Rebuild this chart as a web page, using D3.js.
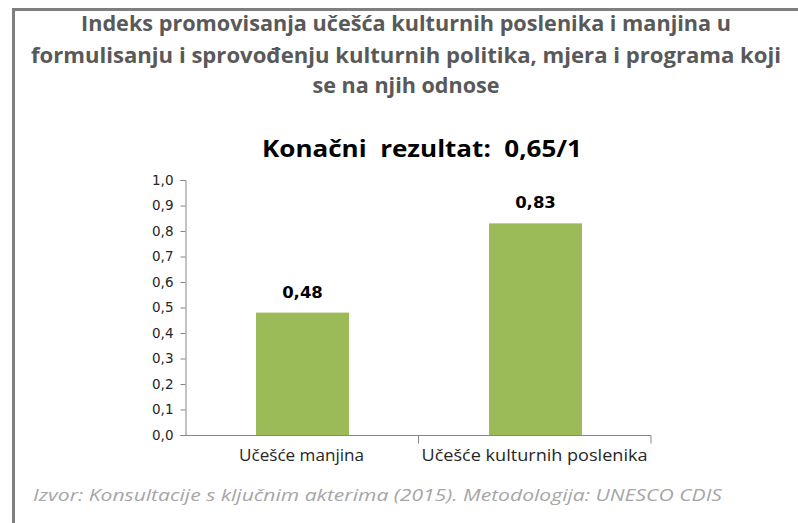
<!DOCTYPE html>
<html>
<head>
<meta charset="utf-8">
<script src="https://cdn.jsdelivr.net/npm/d3@7"></script>
<style>
  html, body { margin: 0; padding: 0; background: #fff; }
  svg { display: block; }
</style>
</head>
<body>
<div id="vis"></div>
<script>
// chart data
var categories = ["Učešće manjina", "Učešće kulturnih poslenika"];
var values = [0.48, 0.83];
var valueLabels = ["0,48", "0,83"];
var yTicks = [0, 0.1, 0.2, 0.3, 0.4, 0.5, 0.6, 0.7, 0.8, 0.9, 1.0];
var titleLines = [
  "Indeks promovisanja učešća kulturnih poslenika i manjina u",
  "formulisanju i sprovođenju kulturnih politika, mjera i programa koji",
  "se na njih odnose"
];
var subtitle = "Konačni  rezultat:  0,65/1";
var source = "Izvor: Konsultacije s ključnim akterima (2015). Metodologija: UNESCO CDIS";

var W = 798, H = 523;
var svg = d3.select("#vis").append("svg")
  .attr("width", W)
  .attr("height", H);

// frame (right and bottom edges run off the picture)
svg.append("path")
  .attr("d", "M13.5," + H + " V9.5 H" + W)
  .attr("fill", "none")
  .attr("stroke", "#7f7f7f")
  .attr("stroke-width", 3);

var cx = 406;
// title, widths fitted to the reference
var titleWidths = [650, 750, 187];
var titleY = [31, 63, 93];
titleLines.forEach(function(t, i) {
  svg.append("text")
    .attr("x", cx)
    .attr("y", titleY[i])
    .attr("text-anchor", "middle")
    .attr("font-family", "'Open Sans', sans-serif")
    .attr("font-weight", "bold")
    .attr("font-size", 21)
    .attr("fill", "#595959")
    .attr("textLength", titleWidths[i])
    .attr("lengthAdjust", "spacingAndGlyphs")
    .text(t);
});

svg.append("text")
  .attr("x", 422)
  .attr("y", 157)
  .attr("text-anchor", "middle")
  .attr("font-family", "'Open Sans', sans-serif")
  .attr("font-weight", "bold")
  .attr("font-size", 23.5)
  .attr("fill", "#000")
  .attr("textLength", 320)
  .attr("lengthAdjust", "spacingAndGlyphs")
  .style("white-space", "pre")
  .text(subtitle);

// scales
var x = d3.scaleBand().domain(categories).range([185, 651]).paddingInner(0).paddingOuter(0);
var y = d3.scaleLinear().domain([0, 1]).range([435, 180]);
var barW = 93;

var fmt = function(d) { return d3.format(".1f")(d).replace(".", ","); };

// y axis
var yAxis = svg.append("g")
  .attr("transform", "translate(185.5,0)")
  .call(d3.axisLeft(y).tickValues(yTicks).tickFormat(fmt).tickSize(5).tickPadding(7));
yAxis.select(".domain").attr("stroke", "#868686").attr("d", "M-5,435.5H0.5V180.5H-5");
yAxis.selectAll(".tick line").attr("stroke", "#868686");
yAxis.selectAll(".tick text")
  .attr("font-family", "'DejaVu Sans', Verdana, sans-serif")
  .attr("font-size", 13.5)
  .attr("fill", "#262626");

// x axis
var xAxis = svg.append("g")
  .attr("transform", "translate(0,435.5)")
  .call(d3.axisBottom(x).tickSize(0).tickPadding(14));
xAxis.select(".domain").attr("stroke", "#868686").attr("d", "M185,0H651V8");
xAxis.selectAll(".tick text")
  .attr("font-family", "'Open Sans', sans-serif")
  .attr("font-size", 16)
  .attr("fill", "#262626")
  .attr("textLength", function(d, i) { return [125, 226][i]; })
  .attr("lengthAdjust", "spacingAndGlyphs");
// category separators
xAxis.selectAll(".sep")
  .data(categories.slice(1))
  .enter().append("line")
  .attr("class", "sep")
  .attr("x1", function(d) { return Math.round(x(d)) + 0.5; })
  .attr("x2", function(d) { return Math.round(x(d)) + 0.5; })
  .attr("y1", 0).attr("y2", 8)
  .attr("stroke", "#868686");

// bars
svg.selectAll(".bar")
  .data(values)
  .enter().append("rect")
  .attr("class", "bar")
  .attr("x", function(d, i) { return x(categories[i]) + x.bandwidth() / 2 - barW / 2 + 1; })
  .attr("y", function(d) { return y(d); })
  .attr("width", barW)
  .attr("height", function(d) { return y(0) - y(d); })
  .attr("fill", "#9bbb59");

// value labels
svg.selectAll(".val")
  .data(values)
  .enter().append("text")
  .attr("class", "val")
  .attr("x", function(d, i) { return x(categories[i]) + x.bandwidth() / 2 + 1; })
  .attr("y", function(d) { return y(d) - 15; })
  .attr("text-anchor", "middle")
  .attr("font-family", "'DejaVu Sans', Verdana, sans-serif")
  .attr("font-weight", "bold")
  .attr("font-size", 16.5)
  .attr("fill", "#000")
  .text(function(d, i) { return valueLabels[i]; });

// source note
svg.append("text")
  .attr("x", 33)
  .attr("y", 501)
  .attr("font-family", "'Open Sans', sans-serif")
  .attr("font-style", "italic")
  .attr("font-size", 16)
  .attr("fill", "#a6a6a6")
  .attr("textLength", 689)
  .attr("lengthAdjust", "spacingAndGlyphs")
  .text(source);
</script>
</body>
</html>
